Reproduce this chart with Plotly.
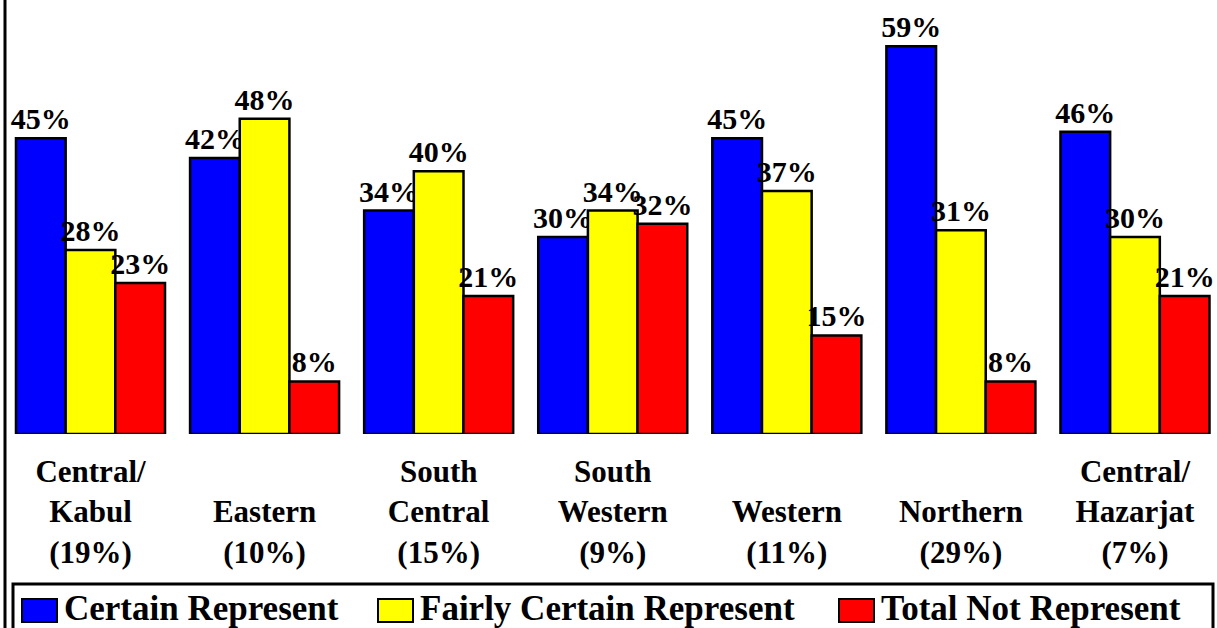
import plotly.graph_objects as go

# ---- data ----
region_line1 = ["Central/", "", "South", "South", "", "", "Central/"]
region_line2 = ["Kabul", "Eastern", "Central", "Western", "Western", "Northern", "Hazarjat"]
region_share = ["(19%)", "(10%)", "(15%)", "(9%)", "(11%)", "(29%)", "(7%)"]

series_names = ["Certain Represent", "Fairly Certain Represent", "Total Not Represent"]
certain = [45, 42, 34, 30, 45, 59, 46]
fairly = [28, 48, 40, 34, 37, 31, 30]
not_rep = [23, 8, 21, 32, 15, 8, 21]
series_values = [certain, fairly, not_rep]
series_colors = ["#0000FF", "#FFFF00", "#FF0000"]

W, H = 1217, 628
BASE = 434  # pixel y of baseline (bottom of plot area)

FONT = "Liberation Serif"

cats = list(range(len(region_line2)))
ticktext = []
for a, b, c in zip(region_line1, region_line2, region_share):
    ticktext.append((a if a else "\u00a0") + "<br>" + b + "<br>" + c)

fig = go.Figure()
for name, vals, col in zip(series_names, series_values, series_colors):
    fig.add_trace(go.Bar(
        x=cats, y=vals, name=name,
        marker=dict(color=col, line=dict(color="black", width=2.5)),
        text=[f"{v}%" for v in vals],
        textposition="outside",
        constraintext="none",
        cliponaxis=False,
        textfont=dict(family=FONT, size=30, color="black", weight="bold"),
        showlegend=False,
        hoverinfo="skip",
    ))


def px_x(p):
    return p / W


def px_y(p):
    return (BASE - p) / BASE


shapes = []
annotations = []
# left border line
shapes.append(dict(type="line", xref="paper", yref="paper",
                   x0=px_x(5), x1=px_x(5), y0=px_y(-5), y1=px_y(H + 5),
                   line=dict(color="black", width=3)))
# legend box
shapes.append(dict(type="rect", xref="paper", yref="paper",
                   x0=px_x(13), x1=px_x(1213), y0=px_y(584), y1=px_y(H + 10),
                   line=dict(color="black", width=3), fillcolor="rgba(0,0,0,0)"))
# manual legend
sq_x = [22, 378, 839]
for name, col, x0 in zip(series_names, series_colors, sq_x):
    shapes.append(dict(type="rect", xref="paper", yref="paper",
                       x0=px_x(x0), x1=px_x(x0 + 35), y0=px_y(599), y1=px_y(622),
                       line=dict(color="black", width=2), fillcolor=col))
    annotations.append(dict(xref="paper", yref="paper", x=px_x(x0 + 40), y=px_y(608),
                            xanchor="left", yanchor="middle", showarrow=False,
                            text=name,
                            font=dict(family=FONT, size=35, color="black", weight="bold")))

spacing = 174.08
c0 = 90.5
fig.update_layout(
    width=W, height=H,
    margin=dict(l=0, r=0, t=0, b=H - BASE),
    paper_bgcolor="white", plot_bgcolor="white",
    barmode="group", bargap=0.144, bargroupgap=0,
    xaxis=dict(range=[-c0 / spacing, (W - c0) / spacing],
               tickvals=cats, ticktext=ticktext,
               showgrid=False, zeroline=False, showline=False, ticks="",
               ticklabelstandoff=16,
               tickfont=dict(family=FONT, size=31, color="black", weight="bold")),
    yaxis=dict(range=[0, BASE / 6.57], visible=False, showgrid=False, zeroline=False),
    shapes=shapes,
    annotations=annotations,
)

fig.write_html("out.html", config={"displayModeBar": False},
               post_script="document.body.style.margin='0';document.body.style.overflow='hidden';")
